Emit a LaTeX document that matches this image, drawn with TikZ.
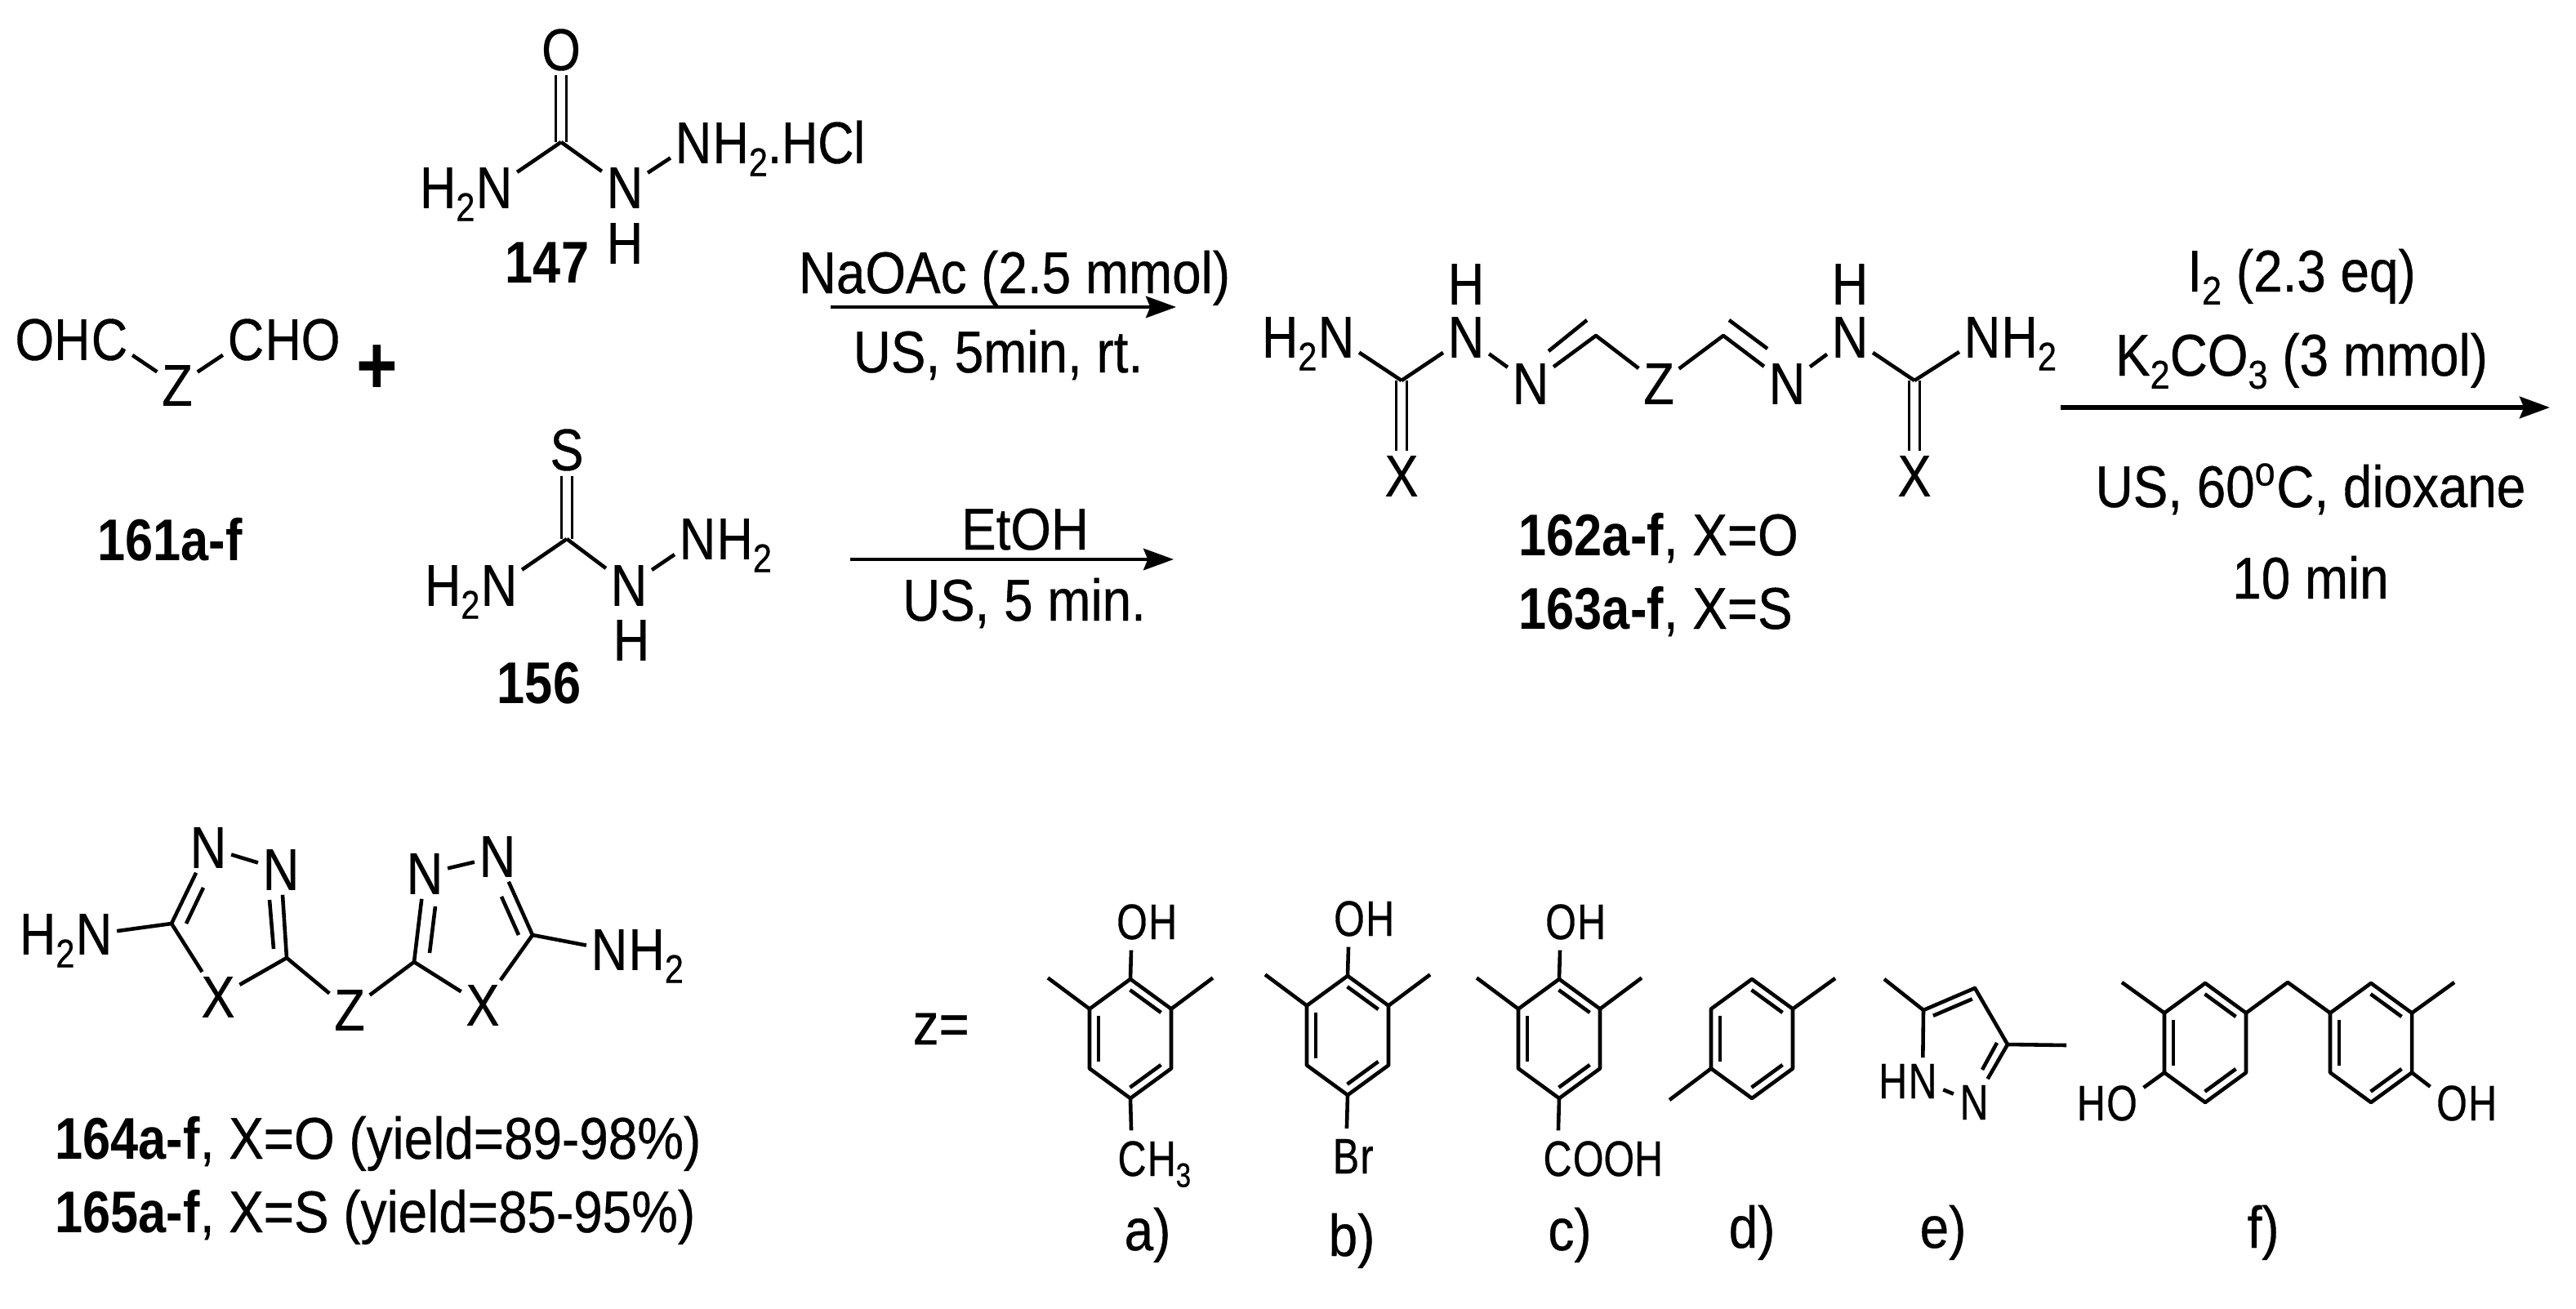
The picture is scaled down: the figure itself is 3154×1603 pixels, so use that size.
\documentclass[tikz,border=0pt]{standalone}
\usepackage{fontspec}
\setmainfont[UprightFeatures={FakeStretch=0.885,FakeBold=0.5},BoldFeatures={FakeStretch=0.85}]{Liberation Sans}
\newfontfamily\atomfont[FakeStretch=0.85,FakeBold=0.5]{Liberation Sans}
\newfontfamily\smallfont[FakeStretch=0.79,FakeBold=0.5]{Liberation Sans}
\usetikzlibrary{arrows.meta,calc}

\tikzset{
  bond/.style={line width=1.3pt,line join=round},
  dblbond/.style={double,double distance=3pt,line width=.9pt},
  rxnarrow/.style={line width=1.3pt,-{Stealth[length=10.5pt,width=7.5pt,inset=1.5pt]}},
  atom/.style={font=\atomfont\fontsize{20.5}{24}\selectfont,inner sep=1.5pt},
  smatom/.style={font=\smallfont\fontsize{17.4}{20}\selectfont,inner sep=2pt},
  rtail/.style={anchor=base west,inner sep=0pt,xshift=-1.5pt},
  ltail/.style={anchor=base east,inner sep=0pt,xshift=1.5pt},
  srtail/.style={anchor=base west,inner sep=0pt,xshift=-2pt},
  sltail/.style={anchor=base east,inner sep=0pt,xshift=2pt},
  lbl/.style={font=\fontsize{20.5}{24}\selectfont,inner sep=0pt,anchor=base},
  lblw/.style={lbl,anchor=base west}
}

% subscript, larger and lower than the default one
\newcommand{\sbs}[1]{\raisebox{-.22em}{\scalebox{.68}{#1}}}

% inner line of a ring double bond, a to b clockwise
\newcommand{\innerbond}[2]{\draw[bond] ($(#1)!.12!(#2)!.11cm!-90:(#2)$) -- ($(#2)!.12!(#1)!.11cm!90:(#1)$);}

% six-membered ring: name, centre x, centre y
\newcommand{\benzring}[3]{
  \coordinate (#1t) at (#2,#3-73);
  \coordinate (#1ur) at (#2+50,#3-36.5);
  \coordinate (#1lr) at (#2+50,#3+36.5);
  \coordinate (#1b) at (#2,#3+73);
  \coordinate (#1ll) at (#2-50,#3+36.5);
  \coordinate (#1ul) at (#2-50,#3-36.5);
  \draw[bond] (#1t) -- (#1ur) -- (#1lr) -- (#1b) -- (#1ll) -- (#1ul) -- cycle;
  \innerbond{#1t}{#1ur}
  \innerbond{#1lr}{#1b}
  \innerbond{#1ll}{#1ul}
}

\begin{document}
\begin{tikzpicture}[x=0.01cm,y=-0.01cm]
    \useasboundingbox (0,0) rectangle (3154,1603);

    % Dialdehyde 161
    \node[atom] (cho1) at (134,416) {C};
    \node[atom,ltail] (cho1t) at (cho1.base west) {OH};
    \node[atom] (cho2) at (301,416) {C};
    \node[atom,rtail] (cho2t) at (cho2.base east) {HO};
    \node[atom] (z161) at (217,472) {Z};
    \draw[bond] (cho1) -- (z161);
    \draw[bond] (cho2) -- (z161);
    \node[lbl] (lab161) at (208,686) {\bfseries 161a-f};
    \node[font=\bfseries\fontsize{29}{32}\selectfont,inner sep=0pt] (plus) at (462,453) {+};

    % Semicarbazide 147
    \coordinate (c147) at (687,174);
    \node[atom] (o147) at (687,61) {O};
    \node[atom] (na147) at (605,230) {N};
    \node[atom,ltail] (na147t) at (na147.base west) {H\sbs{2}};
    \node[atom] (nb147) at (765,230) {N};
    \node[atom] (hb147) at (765,298) {H};
    \node[atom] (nc147) at (849,175) {N};
    \node[atom,rtail] (nc147t) at (nc147.base east) {H\sbs{2}.HCl};
    \draw[dblbond] (c147) -- (o147);
    \draw[bond] (c147) -- (na147);
    \draw[bond] (c147) -- (nb147);
    \draw[bond] (nb147) -- (nc147);
    \node[lbl] (lab147) at (670,347) {\bfseries 147};

    % Thiosemicarbazide 156
    \coordinate (c156) at (694,660);
    \node[atom] (s156) at (694,551) {S};
    \node[atom] (na156) at (611,717) {N};
    \node[atom,ltail] (na156t) at (na156.base west) {H\sbs{2}};
    \node[atom] (nb156) at (770,717) {N};
    \node[atom] (hb156) at (773,784) {H};
    \node[atom] (nc156) at (854,660) {N};
    \node[atom,rtail] (nc156t) at (nc156.base east) {H\sbs{2}};
    \draw[dblbond] (c156) -- (s156);
    \draw[bond] (c156) -- (na156);
    \draw[bond] (c156) -- (nb156);
    \draw[bond] (nb156) -- (nc156);
    \node[lbl] (lab156) at (660,861) {\bfseries 156};

    % First two arrows and their conditions
    \coordinate (arra) at (1017,376);
    \coordinate (arrb) at (1440,376);
    \draw[rxnarrow] (arra) -- (arrb);
    \node[lbl] (cond1) at (1242,359) {NaOAc (2.5 mmol)};
    \node[lbl] (cond2) at (1222,456) {US, 5min, rt.};
    \coordinate (arrc) at (1041,685);
    \coordinate (arrd) at (1437,685);
    \draw[rxnarrow] (arrc) -- (arrd);
    \node[lbl] (cond3) at (1255,673) {EtOH};
    \node[lbl] (cond4) at (1254,760) {US, 5 min.};

    % Open chain product 162/163
    \coordinate (cl) at (1716,466);
    \coordinate (cr) at (2344,466);
    \coordinate (chl) at (1954,411);
    \coordinate (chr) at (2110,411);
    \node[atom] (na) at (1636,413) {N};
    \node[atom,ltail] (nat) at (na.base west) {H\sbs{2}};
    \node[atom] (nb) at (1795,413) {N};
    \node[atom] (hb) at (1795,348) {H};
    \node[atom] (nc) at (1874,470) {N};
    \node[atom] (zm) at (2031,470) {Z};
    \node[atom] (nd) at (2188,470) {N};
    \node[atom] (ne) at (2265,413) {N};
    \node[atom] (he) at (2265,348) {H};
    \node[atom] (nf) at (2427,413) {N};
    \node[atom,rtail] (nft) at (nf.base east) {H\sbs{2}};
    \node[atom] (xl) at (1716,583) {X};
    \node[atom] (xr) at (2344,583) {X};
    \draw[dblbond] (cl) -- (xl);
    \draw[dblbond] (cr) -- (xr);
    \draw[bond] (cl) -- (na);
    \draw[bond] (cl) -- (nb);
    \draw[bond] (nb) -- (nc);
    \draw[bond] (nc) -- (chl) -- (zm);
    \draw[bond] (zm) -- (chr) -- (nd);
    \draw[bond] (nd) -- (ne);
    \draw[bond] (ne) -- (cr);
    \draw[bond] (cr) -- (nf);
    \coordinate (dla) at (1896,430);
    \coordinate (dlb) at (1943,392);
    \coordinate (dra) at (2117,392);
    \coordinate (drb) at (2164,427);
    \draw[bond] (dla) -- (dlb);
    \draw[bond] (dra) -- (drb);
    \node[lblw] (lab162) at (1859,680) {\textbf{162a-f}, X=O};
    \node[lblw] (lab163) at (1859,770) {\textbf{163a-f}, X=S};

    % Third arrow and its conditions
    \coordinate (arre) at (2523,499);
    \coordinate (arrf) at (3122,499);
    \draw[rxnarrow,line width=1.6pt] (arre) -- (arrf);
    \node[lbl] (cond5) at (2818,357) {I\sbs{2} (2.3 eq)};
    \node[lbl] (cond6) at (2818,460) {K\sbs{2}CO\sbs{3} (3 mmol)};
    \node[lbl] (cond7) at (2829,621) {US, 60\textsuperscript{o}C, dioxane};
    \node[lbl] (cond8) at (2829,733) {10 min};

    % Bis-heterocycle 164/165
    \coordinate (hca) at (210,1131);
    \coordinate (hcb) at (351,1173);
    \coordinate (hcc) at (507,1178);
    \coordinate (hcd) at (652,1145);
    \node[atom] (n1) at (115,1144) {N};
    \node[atom,ltail] (n1t) at (n1.base west) {H\sbs{2}};
    \node[atom] (n2) at (255,1038) {N};
    \node[atom] (n3) at (344,1065) {N};
    \node[atom] (n4) at (520,1070) {N};
    \node[atom] (n5) at (609,1049) {N};
    \node[atom] (n6) at (746,1163) {N};
    \node[atom,rtail] (n6t) at (n6.base east) {H\sbs{2}};
    \node[atom] (x1) at (267,1221) {X};
    \node[atom] (x2) at (591,1231) {X};
    \node[atom] (zb) at (428,1237) {Z};
    \draw[bond] (n1) -- (hca) -- (n2);
    \draw[bond] (n2) -- (n3);
    \draw[bond] (n3) -- (hcb);
    \draw[bond] (hca) -- (x1);
    \draw[bond] (x1) -- (hcb) -- (zb);
    \draw[bond] (zb) -- (hcc) -- (x2);
    \draw[bond] (x2) -- (hcd) -- (n5);
    \draw[bond] (hcc) -- (n4);
    \draw[bond] (n4) -- (n5);
    \draw[bond] (hcd) -- (n6);
    \coordinate (ia) at (228,1131);
    \coordinate (ib) at (249,1087);
    \coordinate (ic) at (330,1102);
    \coordinate (id) at (335,1162);
    \coordinate (ie) at (526,1167);
    \coordinate (if) at (533,1110);
    \coordinate (ig) at (635,1145);
    \coordinate (ih) at (614,1098);
    \draw[bond] (ia) -- (ib);
    \draw[bond] (ic) -- (id);
    \draw[bond] (ie) -- (if);
    \draw[bond] (ig) -- (ih);
    \node[lblw] (lab164) at (67,1419) {\textbf{164a-f}, X=O (yield=89-98\%)};
    \node[lblw] (lab165) at (67,1509) {\textbf{165a-f}, X=S (yield=85-95\%)};

    % Z groups
    \node[lblw] (zeq) at (1117,1279) {z=};
    \benzring{a}{1384}{1272}
    \benzring{b}{1650}{1268}
    \benzring{c}{1909}{1272}
    \foreach \ring in {a,b,c} {
        \coordinate (\ring tl) at ($(\ring ul)+(-51,-38)$);
        \coordinate (\ring tr) at ($(\ring ur)+(51,-38)$);
        \draw[bond] (\ring ul) -- (\ring tl);
        \draw[bond] (\ring ur) -- (\ring tr);
    }
    \node[smatom] (oa) at (1386,1129) {O};
    \node[smatom,srtail] (oat) at (oa.base east) {H};
    \node[smatom] (ob) at (1652,1125) {O};
    \node[smatom,srtail] (obt) at (ob.base east) {H};
    \node[smatom] (oc) at (1911,1129) {O};
    \node[smatom,srtail] (oct) at (oc.base east) {H};
    \node[smatom] (ra) at (1386,1419) {C};
    \node[smatom,srtail] (rat) at (ra.base east) {H\sbs{3}};
    \node[smatom] (rb) at (1648,1416) {B};
    \node[smatom,srtail] (rbt) at (rb.base east) {r};
    \node[smatom] (rc) at (1907,1419) {C};
    \node[smatom,srtail] (rct) at (rc.base east) {OOH};
    \draw[bond,shorten >=1.5pt] (at) -- (oa);
    \draw[bond,shorten >=1.5pt] (bt) -- (ob);
    \draw[bond,shorten >=1.5pt] (ct) -- (oc);
    \draw[bond,shorten >=1.5pt] (ab) -- (ra);
    \draw[bond,shorten >=1.5pt] (bb) -- (rb);
    \draw[bond,shorten >=1.5pt] (cb) -- (rc);

    % Para-xylene type group
    \benzring{d}{2145}{1272}
    \coordinate (dtr) at (2247,1198);
    \coordinate (dtl) at (2044,1347);
    \draw[bond] (dur) -- (dtr);
    \draw[bond] (dll) -- (dtl);

    % Pyrazole group
    \coordinate (etip) at (2307,1199);
    \coordinate (ecf) at (2355,1237);
    \coordinate (ecg) at (2418,1210);
    \coordinate (ech) at (2458,1279);
    \coordinate (eme) at (2530,1280);
    \node[smatom] (ena) at (2354,1324) {N};
    \node[smatom,sltail] (enat) at (ena.base west) {H};
    \node[smatom] (enb) at (2417,1350) {N};
    \draw[bond] (etip) -- (ecf) -- (ecg) -- (ech) -- (eme);
    \draw[bond] (ecf) -- (ena);
    \draw[bond] (ena) -- (enb);
    \draw[bond] (ech) -- (enb);
    \innerbond{ecf}{ecg}
    \coordinate (eia) at (2445,1277);
    \coordinate (eib) at (2427,1310);
    \draw[bond] (eia) -- (eib);

    % Bis-aryl methane group
    \benzring{f}{2700}{1277}
    \benzring{g}{2903}{1277}
    \coordinate (ftip) at (2598,1203);
    \coordinate (gtip) at (3005,1203);
    \coordinate (mid) at (2801,1203);
    \draw[bond] (ful) -- (ftip);
    \draw[bond] (gur) -- (gtip);
    \draw[bond] (fur) -- (mid) -- (gul);
    \node[smatom] (of) at (2598,1351) {O};
    \node[smatom,sltail] (oft) at (of.base west) {H};
    \node[smatom] (og) at (3002,1351) {O};
    \node[smatom,srtail] (ogt) at (og.base east) {H};
    \draw[bond] (fll) -- (of);
    \draw[bond] (glr) -- (og);

    % Letters under the groups
    \node[lbl] (leta) at (1405,1531) {a)};
    \node[lbl] (letb) at (1655,1538) {b)};
    \node[lbl] (letc) at (1922,1531) {c)};
    \node[lbl] (letd) at (2145,1528) {d)};
    \node[lbl] (lete) at (2379,1528) {e)};
    \node[lbl] (letf) at (2771,1528) {f)};
\end{tikzpicture}
\end{document}
